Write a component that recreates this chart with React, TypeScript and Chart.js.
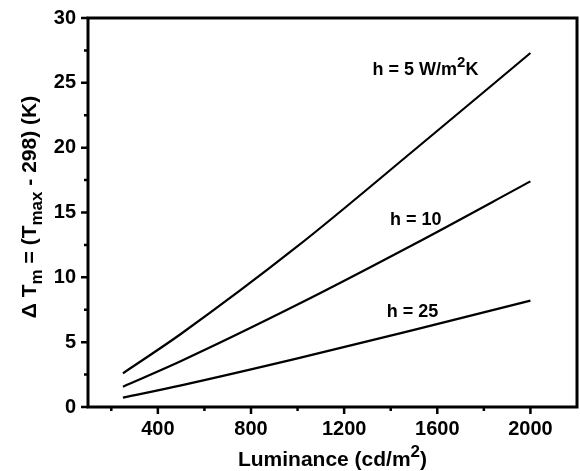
import React, { useEffect, useRef } from "react";
import { Chart, registerables } from "chart.js";

Chart.register(...registerables);

const luminance = [250, 500, 1000, 1500, 2000];
const h5 = [2.6, 5.65, 12.4, 19.8, 27.3];
const h10 = [1.57, 3.55, 7.9, 12.55, 17.4];
const h25 = [0.72, 1.67, 3.75, 5.95, 8.2];

const xTickValues = [400, 800, 1200, 1600, 2000];
const xMinorValues = [200, 600, 1000, 1400, 1800];
const yTickValues = [0, 5, 10, 15, 20, 25, 30];
const yMinorValues = [2.5, 7.5, 12.5, 17.5, 22.5, 27.5];

// series annotations: [text, superscript, rest], position in data units (left, baseline)
const labelTexts = [
  ["h = 5 W/m", "2", "K"],
  ["h = 10", "", ""],
  ["h = 25", "", ""],
];
const labelX = [1322, 1397, 1383];
const labelY = [25.6, 14.04, 6.94];

const FONT = "Liberation Sans, Arial, sans-serif";

type Seg = [string, number]; // text, mode: 0 normal, 1 sub, 2 sup

function drawSegs(ctx: CanvasRenderingContext2D, segs: Seg[], x: number, y: number, size: number, small: number, center: boolean) {
  const widths = segs.map(([t, m]) => {
    ctx.font = `bold ${m === 0 ? size : small}px ${FONT}`;
    return ctx.measureText(t).width;
  });
  const total = widths.reduce((a, b) => a + b, 0);
  let cx = center ? x - total / 2 : x;
  segs.forEach(([t, m], i) => {
    ctx.font = `bold ${m === 0 ? size : small}px ${FONT}`;
    const dy = m === 1 ? size * 0.3 : m === 2 ? -size * 0.42 : 0;
    ctx.fillText(t, cx, y + dy);
    cx += widths[i];
  });
}

const decorPlugin = {
  id: "decor",
  afterDraw(chart: any) {
    const ctx: CanvasRenderingContext2D = chart.ctx;
    const { left, right, top, bottom } = chart.chartArea;
    const xs = chart.scales.x;
    const ys = chart.scales.y;
    ctx.save();
    ctx.strokeStyle = "#000";
    ctx.fillStyle = "#000";
    ctx.lineWidth = 3;
    ctx.strokeRect(left, top, right - left, bottom - top);
    // ticks
    ctx.lineWidth = 2.5;
    ctx.beginPath();
    xTickValues.forEach((v) => {
      const p = xs.getPixelForValue(v);
      ctx.moveTo(p, bottom);
      ctx.lineTo(p, bottom + 7);
    });
    xMinorValues.forEach((v) => {
      const p = xs.getPixelForValue(v);
      ctx.moveTo(p, bottom);
      ctx.lineTo(p, bottom + 4);
    });
    yTickValues.forEach((v) => {
      const p = ys.getPixelForValue(v);
      ctx.moveTo(left, p);
      ctx.lineTo(left - 7, p);
    });
    yMinorValues.forEach((v) => {
      const p = ys.getPixelForValue(v);
      ctx.moveTo(left, p);
      ctx.lineTo(left - 4, p);
    });
    ctx.stroke();

    ctx.textBaseline = "alphabetic";
    ctx.textAlign = "left";
    // x title
    drawSegs(ctx, [["Luminance (cd/m", 0], ["2", 2], [")", 0]], (left + right) / 2, 466, 21, 17, true);
    // y title
    ctx.save();
    ctx.translate(36, 207);
    ctx.rotate(-Math.PI / 2);
    drawSegs(
      ctx,
      [["\u0394 T", 0], ["m", 1], [" = (T", 0], ["max", 1], [" - 298) (K)", 0]],
      0,
      0,
      21,
      17,
      true
    );
    ctx.restore();
    // series labels
    labelTexts.forEach((lt, i) => {
      const px = xs.getPixelForValue(labelX[i]);
      const py = ys.getPixelForValue(labelY[i]);
      const segs: Seg[] = [[lt[0], 0]];
      if (lt[1]) segs.push([lt[1], 2]);
      if (lt[2]) segs.push([lt[2], 0]);
      drawSegs(ctx, segs, px, py, 18, 15, false);
    });
    ctx.restore();
  },
};

export default function App() {
  const ref = useRef<HTMLCanvasElement>(null);
  useEffect(() => {
    const mk = (d: number[]) => ({
      data: luminance.map((x, i) => ({ x, y: d[i] })),
      borderColor: "#000",
      borderWidth: 2.2,
      pointRadius: 0,
      cubicInterpolationMode: "monotone" as const,
      fill: false,
    });
    const chart = new Chart(ref.current!, {
      type: "line",
      data: { datasets: [mk(h5), mk(h10), mk(h25)] },
      options: {
        animation: false,
        responsive: false,
        layout: { padding: { top: 18, right: 3, left: 0, bottom: 0 } },
        plugins: { legend: { display: false }, tooltip: { enabled: false } },
        scales: {
          x: {
            type: "linear",
            min: 100,
            max: 2200,
            afterBuildTicks: (s: any) => {
              s.ticks = xTickValues.map((v) => ({ value: v }));
            },
            afterFit: (s: any) => {
              s.height = 64;
              s.paddingLeft = 0;
              s.paddingRight = 0;
            },
            grid: { display: false, drawTicks: false },
            border: { display: false },
            ticks: {
              padding: 10,
              maxRotation: 0,
              color: "#000",
              callback: (v: any) => String(v),
              font: { family: FONT, size: 20, weight: "bold" },
            },
          },
          y: {
            type: "linear",
            min: 0,
            max: 30,
            afterBuildTicks: (s: any) => {
              s.ticks = yTickValues.map((v) => ({ value: v }));
            },
            afterFit: (s: any) => {
              s.width = 88;
              s.paddingTop = 0;
              s.paddingBottom = 0;
            },
            grid: { display: false, drawTicks: false },
            border: { display: false },
            ticks: {
              padding: 12,
              color: "#000",
              callback: (v: any) => String(v),
              font: { family: FONT, size: 20, weight: "bold" },
            },
          },
        },
      },
      plugins: [decorPlugin],
    });
    return () => chart.destroy();
  }, []);
  return (
    <div style={{ position: "fixed", left: 0, top: 0, width: 580, height: 471, background: "#fff" }}>
      <canvas ref={ref} width={580} height={471} style={{ width: 580, height: 471 }} />
    </div>
  );
}
